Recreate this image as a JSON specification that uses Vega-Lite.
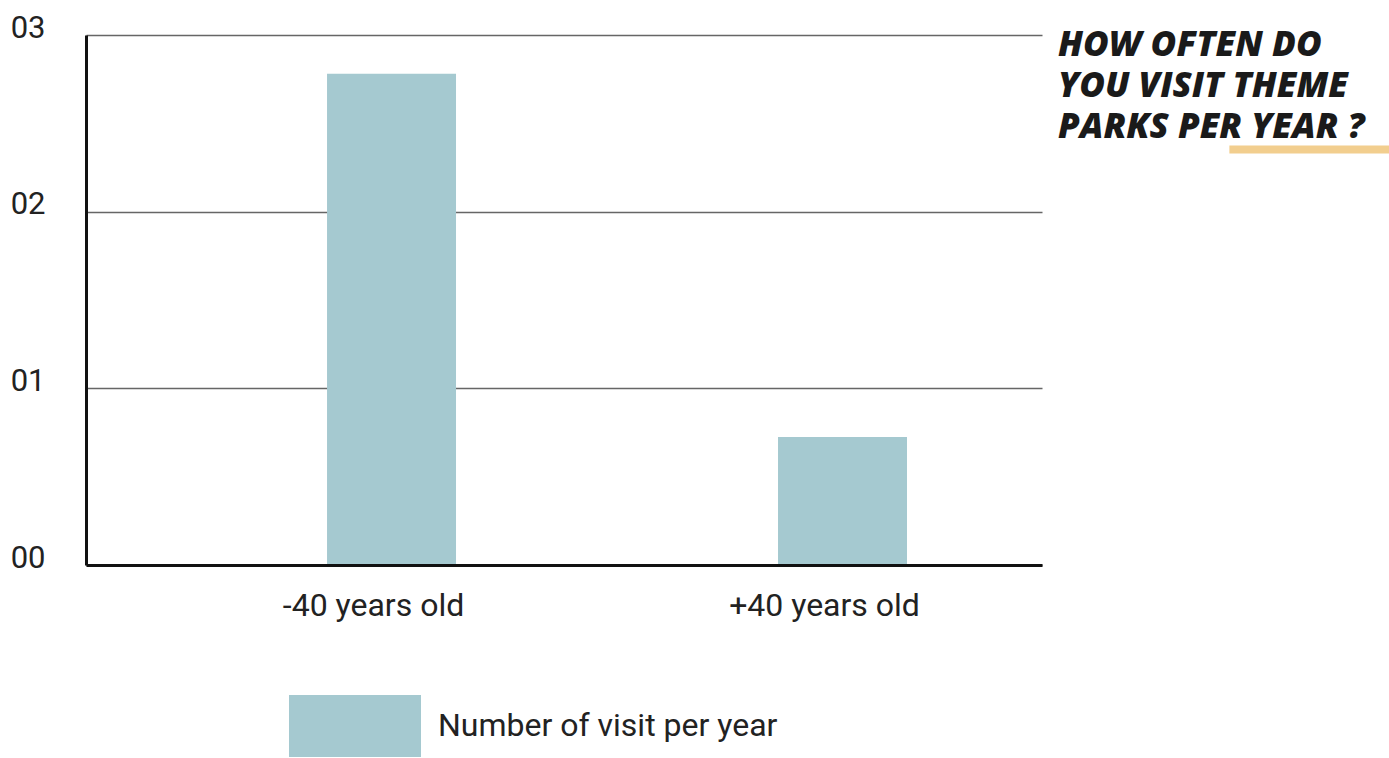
{
  "$schema": "https://vega.github.io/schema/vega-lite/v6.json",
  "width": 956,
  "height": 530,
  "autosize": {"type": "none"},
  "padding": {"left": 86, "top": 35, "right": 347, "bottom": 193},
  "background": "white",
  "config": {
    "view": {"stroke": null},
    "font": "Roboto",
    "legend": {
      "symbolType": "M-1,-0.47H1V0.47H-1Z",
      "symbolSize": 17424,
      "symbolStrokeWidth": 0,
      "labelFont": "Roboto",
      "labelFontSize": 32,
      "labelColor": "#222222",
      "labelOffset": 17,
      "labelLimit": 0,
      "padding": 0
    }
  },
  "title": {
    "text": ["HOW OFTEN DO", "YOU VISIT THEME", "PARKS PER YEAR ?"],
    "orient": "top",
    "anchor": "start",
    "frame": "group",
    "baseline": "top",
    "offset": 0,
    "dx": 972,
    "dy": 133,
    "font": "Open Sans",
    "fontSize": 35,
    "fontWeight": 800,
    "fontStyle": "italic",
    "color": "#1a1a1a",
    "lineHeight": 41,
    "limit": 0
  },
  "layer": [
    {
      "data": {
        "values": [
          {"age": "-40 years old", "visits": 2.78},
          {"age": "+40 years old", "visits": 0.725}
        ]
      },
      "mark": {"type": "bar"},
      "encoding": {
        "x": {
          "field": "age",
          "type": "nominal",
          "sort": null,
          "scale": {"paddingInner": 0.714, "paddingOuter": 0.4169, "align": 0.641},
          "axis": {
            "title": null,
            "labelAngle": 0,
            "labelFont": "Roboto",
            "labelFontSize": 32,
            "labelColor": "#222222",
            "labelPadding": 25,
            "labelOffset": -18,
            "labelLimit": 0,
            "ticks": false,
            "tickSize": 0,
            "domainColor": "#111111",
            "domainWidth": 3,
            "grid": false,
            "zindex": 1
          }
        },
        "y": {
          "field": "visits",
          "type": "quantitative",
          "scale": {"domain": [0, 3], "nice": false},
          "axis": {
            "title": null,
            "values": [0, 1, 2, 3],
            "format": "02d",
            "labelFont": "Roboto",
            "labelFontSize": 31,
            "labelColor": "#222222",
            "labelBaseline": "alphabetic",
            "labelOffset": 2,
            "labelPadding": 41,
            "ticks": false,
            "tickSize": 0,
            "domainColor": "#111111",
            "domainWidth": 3,
            "grid": true,
            "gridColor": "#666666",
            "gridWidth": 1.3
          }
        },
        "color": {
          "datum": "Number of visit per year",
          "type": "nominal",
          "scale": {"range": ["#A5C9D0"]},
          "legend": {"title": null, "orient": "none", "legendX": 203, "legendY": 625}
        }
      }
    },
    {
      "data": {"values": [{"from": 1.196, "to": 1.363, "level": 0.784}]},
      "mark": {"type": "rule", "color": "#F2CE8E", "strokeWidth": 8, "strokeCap": "butt"},
      "encoding": {
        "x": {"field": "from", "type": "quantitative", "scale": {"domain": [0, 1]}, "axis": null},
        "x2": {"field": "to"},
        "y": {"field": "level", "type": "quantitative", "scale": {"domain": [0, 1]}, "axis": null}
      }
    }
  ],
  "resolve": {"scale": {"x": "independent", "y": "independent"}, "axis": {"x": "independent", "y": "independent"}}
}
